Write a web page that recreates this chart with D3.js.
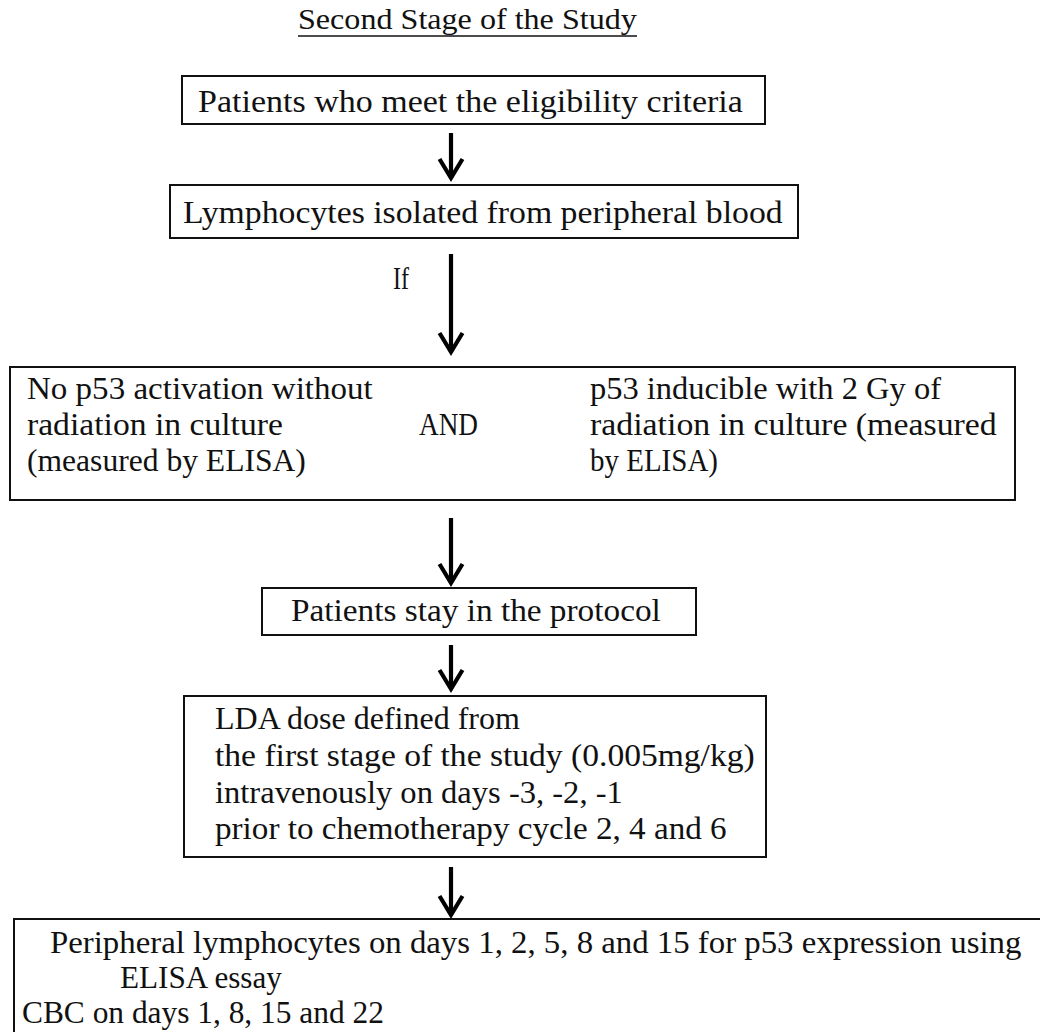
<!DOCTYPE html>
<html>
<head>
<meta charset="utf-8">
<script src="https://cdn.jsdelivr.net/npm/d3@7"></script>
<style>
  html, body { margin: 0; padding: 0; background: #fff; }
  svg text { font-family: "Liberation Serif", "Times New Roman", serif; fill: #111; }
</style>
</head>
<body>
<div id="chart"></div>
<script>
var title = 'Second Stage of the Study';

// box texts, one entry per line
var box1Lines = ['Patients who meet the eligibility criteria'];
var box2Lines = ['Lymphocytes isolated from peripheral blood'];
var box3Left  = ['No p53 activation without', 'radiation in culture', '(measured by ELISA)'];
var box3Mid   = ['AND'];
var box3Right = ['p53 inducible with 2 Gy of', 'radiation in culture (measured', 'by ELISA)'];
var box4Lines = ['Patients stay in the protocol'];
var box5Lines = ['LDA dose defined from', 'the first stage of the study (0.005mg/kg)',
                 'intravenously on days -3, -2, -1', 'prior to chemotherapy cycle 2, 4 and 6'];
var box6Lines = ['Peripheral lymphocytes on days 1, 2, 5, 8 and 15 for p53 expression using',
                 'ELISA essay', 'CBC on days 1, 8, 15 and 22'];
var arrowLabels = ['', 'If', '', '', ''];

var W = 1040, H = 1032;
var svg = d3.select('#chart').append('svg').attr('width', W).attr('height', H);

// layout (pixels)
var boxes = [
  {x0: 182, x1: 765,  y0: 76,  y1: 124},
  {x0: 170, x1: 798,  y0: 185, y1: 238},
  {x0: 10,  x1: 1015, y0: 367, y1: 500},
  {x0: 262, x1: 696,  y0: 588, y1: 635},
  {x0: 184, x1: 766,  y0: 696, y1: 857},
  {x0: 14,  x1: 1060, y0: 919, y1: 1060}
];
var arrows = [
  {y0: 133, y1: 181},
  {y0: 254, y1: 355},
  {y0: 518, y1: 586},
  {y0: 645, y1: 692},
  {y0: 867, y1: 918}
];
var arrowX = 451;
var fontSize = 31;

svg.append('g').selectAll('rect').data(boxes).join('rect')
  .attr('x', function(d) { return d.x0; })
  .attr('y', function(d) { return d.y0; })
  .attr('width', function(d) { return d.x1 - d.x0; })
  .attr('height', function(d) { return d.y1 - d.y0; })
  .attr('fill', 'none').attr('stroke', '#111').attr('stroke-width', 2);

var ag = svg.append('g').attr('stroke', '#000').attr('fill', 'none')
  .attr('stroke-width', 4.2);
arrows.forEach(function(a, i) {
  ag.append('line').attr('x1', arrowX).attr('x2', arrowX)
    .attr('y1', a.y0).attr('y2', a.y1 - 3);
  ag.append('path')
    .attr('d', d3.line()([[arrowX - 11.5, a.y1 - 22], [arrowX, a.y1 - 3], [arrowX + 11.5, a.y1 - 22]]))
    .attr('stroke-linejoin', 'miter').attr('stroke-miterlimit', 10);
  if (arrowLabels[i]) {
    lines([arrowLabels[i]], 393, [289], [16]);
  }
});

// place a line of text at x,y and squeeze/stretch it to a target width
function fit(sel, x, y, w) {
  var nat = sel.node().getComputedTextLength();
  var sx = w ? w / nat : 1;
  sel.attr('transform', 'translate(' + x + ',' + y + ') scale(' + sx + ',1)');
}

function lines(arr, xs, ys, widths, size) {
  arr.forEach(function(s, i) {
    var t = svg.append('text').attr('font-size', size || fontSize).text(s);
    fit(t, Array.isArray(xs) ? xs[i] : xs, ys[i], widths[i]);
  });
}

// title + underline
lines([title], 298, [29], [339], 30);
svg.append('line').attr('x1', 298).attr('x2', 637).attr('y1', 36).attr('y2', 36)
  .attr('stroke', '#111').attr('stroke-width', 1.5);

lines(box1Lines, 198, [112], [545]);
lines(box2Lines, 183, [223], [600]);
lines(box3Left, 27, [399, 435, 471], [346, 256, 279]);
lines(box3Mid, 419, [435], [59]);
lines(box3Right, 590, [399, 435, 471], [351, 407, 128]);
lines(box4Lines, 291, [621], [370]);
lines(box5Lines, 215, [729, 766, 803, 839], [305, 540, 408, 512]);
lines(box6Lines, [50, 120, 22], [953, 988, 1023], [972, 162, 362]);
</script>
</body>
</html>
